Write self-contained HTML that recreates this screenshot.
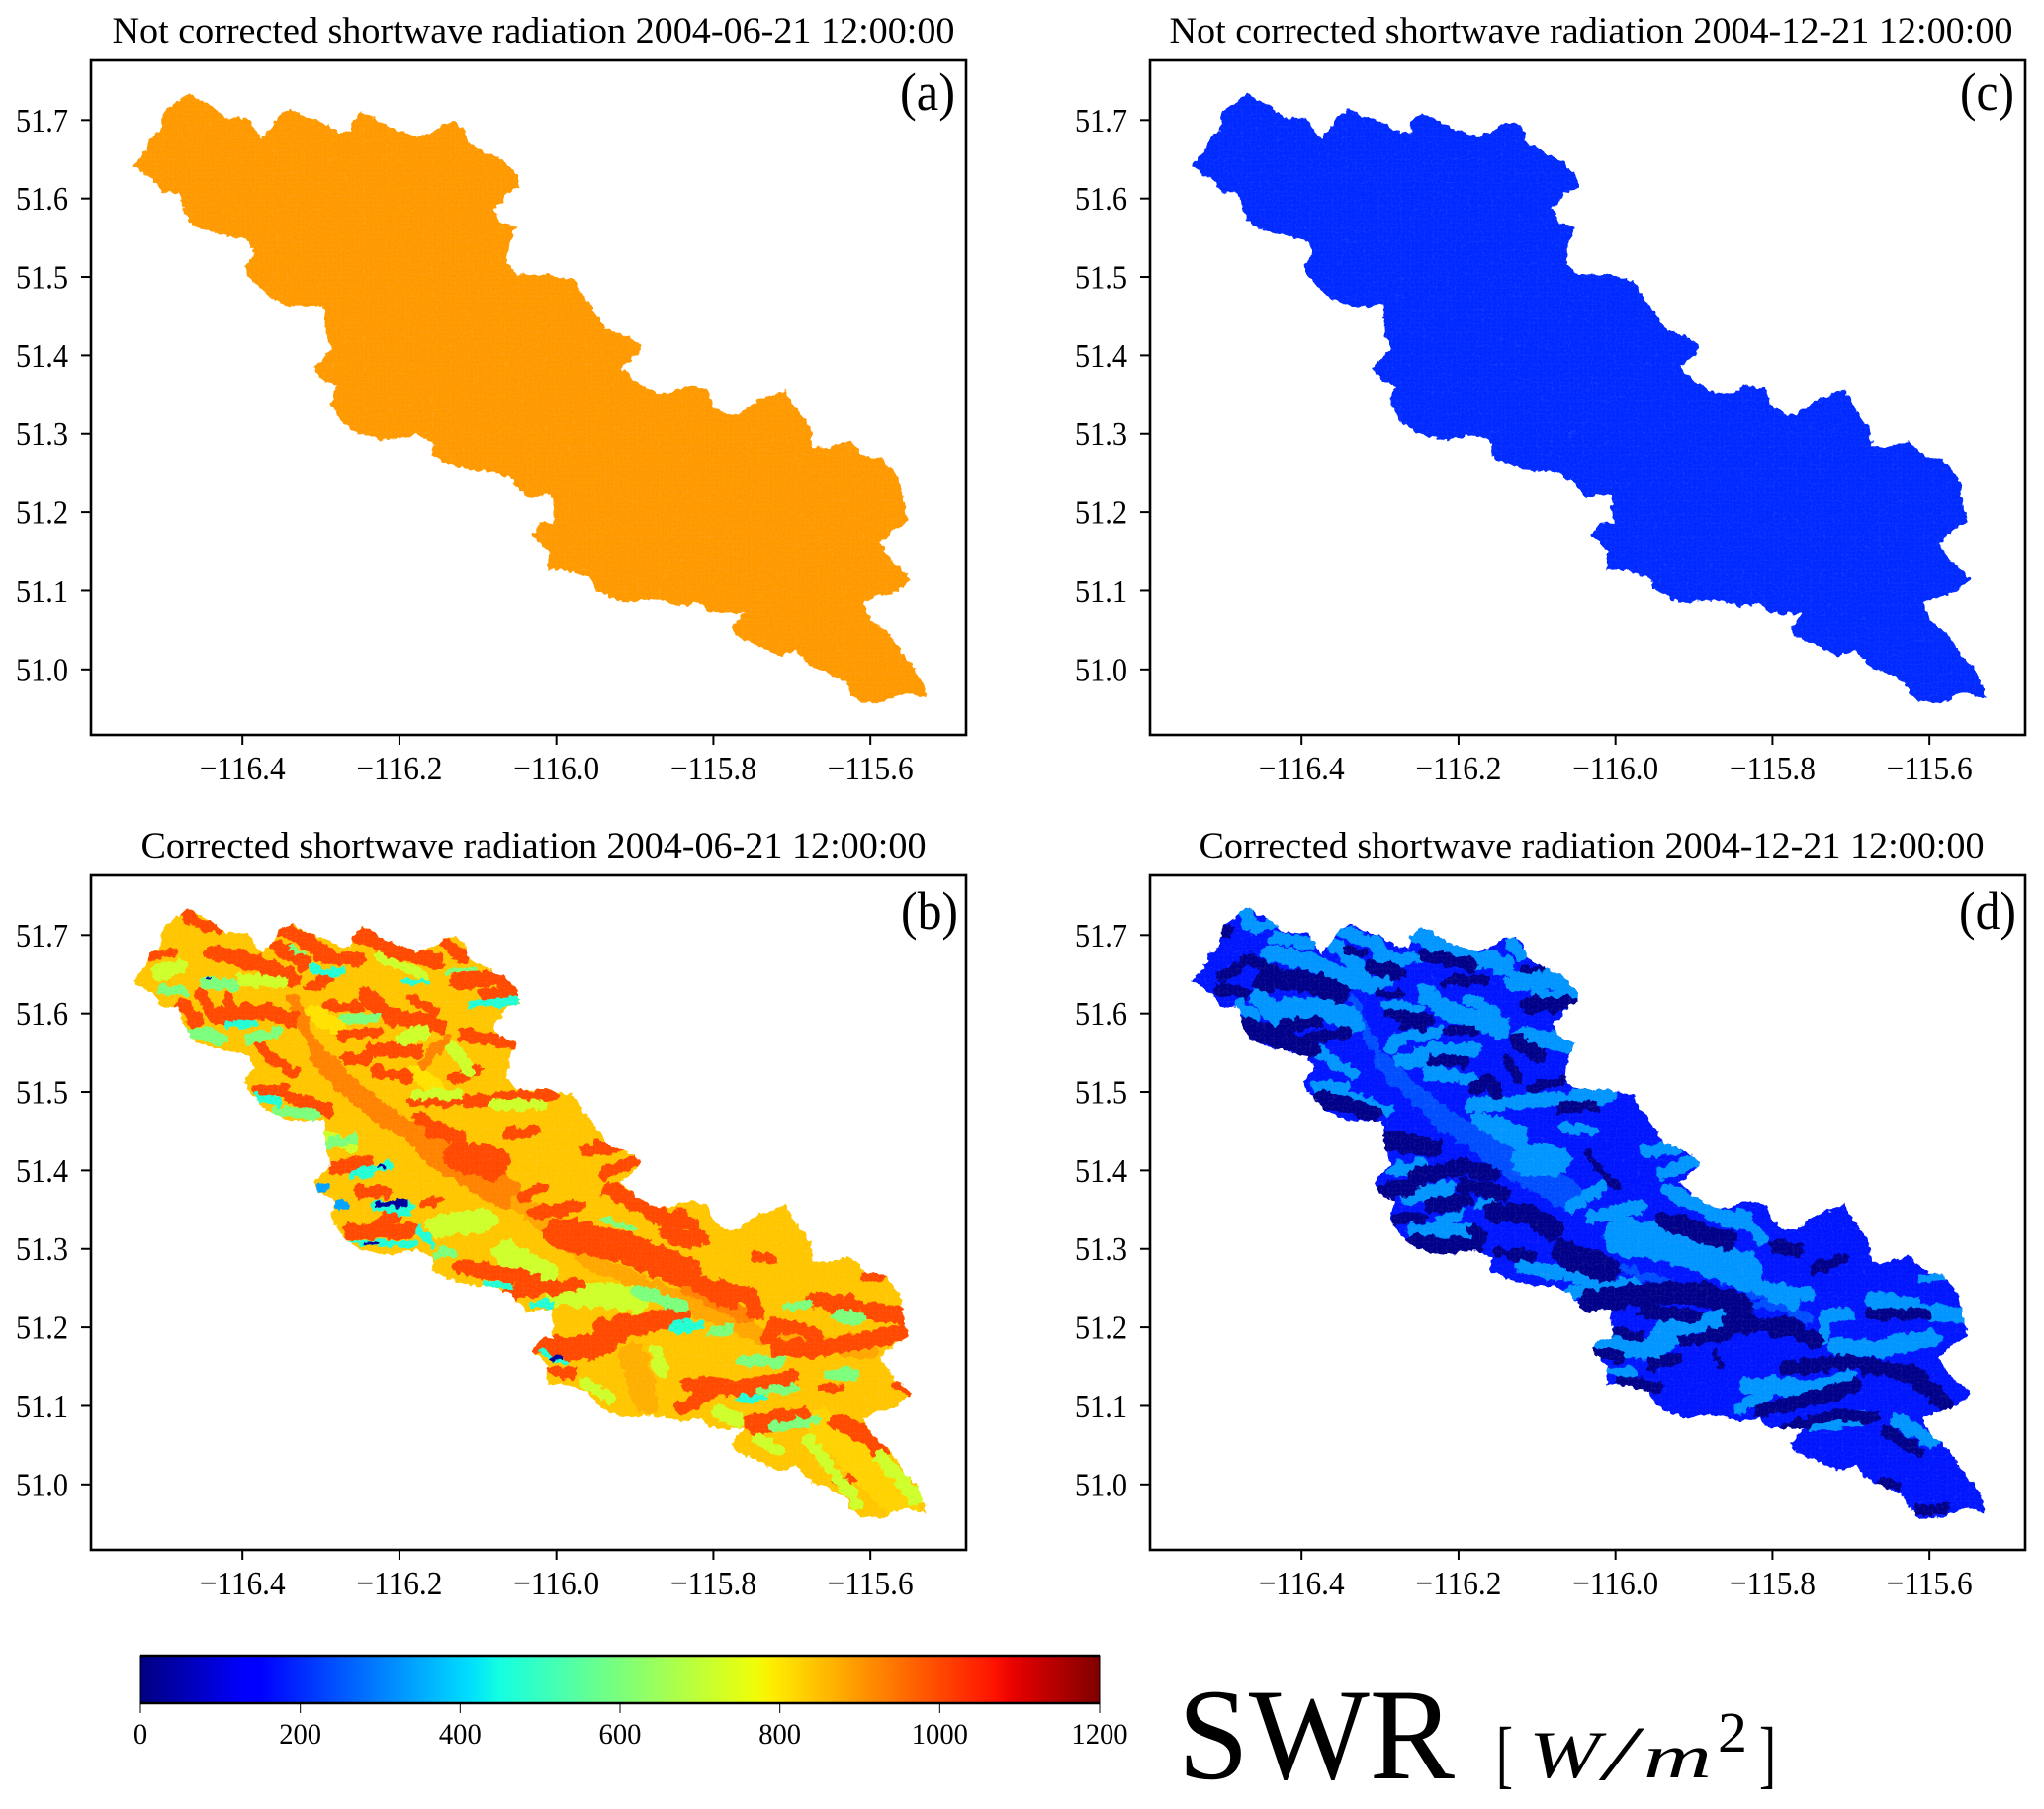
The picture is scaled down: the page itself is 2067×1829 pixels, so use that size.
<!DOCTYPE html>
<html lang="en">
<head>
<meta charset="utf-8">
<title>Shortwave radiation maps</title>
<style>
html,body{margin:0;padding:0;background:#fff;}
svg{display:block;}
text{font-family:"Liberation Serif",serif;fill:#000;}
</style>
</head>
<body>
<svg id="figure" xmlns="http://www.w3.org/2000/svg" width="2067" height="1829" viewBox="0 0 2067 1829">
  <defs>
    <pattern id="cell-grid" width="4.6" height="4.6" patternUnits="userSpaceOnUse">
      <path d="M0 0H4.6M0 0V4.6" stroke="#fff" stroke-width="0.7" opacity="0.10" fill="none"></path>
    </pattern>
    <filter id="rough" x="-5%" y="-5%" width="110%" height="110%">
      <feTurbulence type="fractalNoise" baseFrequency="0.09" numOctaves="2" seed="4" result="n"></feTurbulence>
      <feDisplacementMap in="SourceGraphic" in2="n" scale="10" xChannelSelector="R" yChannelSelector="G"></feDisplacementMap>
    </filter>
    <filter id="edge" x="-3%" y="-3%" width="106%" height="106%">
      <feTurbulence type="fractalNoise" baseFrequency="0.16" numOctaves="2" seed="9" result="n"></feTurbulence>
      <feDisplacementMap in="SourceGraphic" in2="n" scale="7" xChannelSelector="R" yChannelSelector="G"></feDisplacementMap>
    </filter>
    <linearGradient id="jet-gradient" x1="0" x2="1" y1="0" y2="0"></linearGradient>
  </defs>
  <rect x="0" y="0" width="2067" height="1829" fill="#fff"></rect>

  <text x="539.5" y="43" text-anchor="middle" font-size="37" textLength="852" lengthAdjust="spacingAndGlyphs">Not corrected shortwave radiation 2004-06-21 12:00:00</text>
  <text x="1609" y="43" text-anchor="middle" font-size="37" textLength="853" lengthAdjust="spacingAndGlyphs">Not corrected shortwave radiation 2004-12-21 12:00:00</text>
  <text x="539.5" y="867" text-anchor="middle" font-size="37" textLength="794" lengthAdjust="spacingAndGlyphs">Corrected shortwave radiation 2004-06-21 12:00:00</text>
  <text x="1609.5" y="867" text-anchor="middle" font-size="37" textLength="794" lengthAdjust="spacingAndGlyphs">Corrected shortwave radiation 2004-12-21 12:00:00</text>

  <g id="panels"></g>

  <text x="966" y="111" text-anchor="end" font-size="54" textLength="56" lengthAdjust="spacingAndGlyphs">(a)</text>
  <text x="2037" y="111" text-anchor="end" font-size="54" textLength="55" lengthAdjust="spacingAndGlyphs">(c)</text>
  <text x="969" y="939" text-anchor="end" font-size="54" textLength="58" lengthAdjust="spacingAndGlyphs">(b)</text>
  <text x="2039" y="939" text-anchor="end" font-size="54" textLength="58" lengthAdjust="spacingAndGlyphs">(d)</text>

  <g id="colorbar"></g>

  <g>
    <text x="1191" y="1798" font-size="132" textLength="280" lengthAdjust="spacingAndGlyphs">SWR</text>
    <text x="1513" y="1799" font-size="76" textLength="17" lengthAdjust="spacingAndGlyphs">[</text>
    <text x="1546" y="1797" font-size="68" font-style="italic" textLength="72" lengthAdjust="spacingAndGlyphs">W</text>
    <text x="1622" y="1799" font-size="78" font-style="italic" textLength="32" lengthAdjust="spacingAndGlyphs">/</text>
    <text x="1662" y="1797" font-size="62" font-style="italic" textLength="69" lengthAdjust="spacingAndGlyphs">m</text>
    <text x="1737" y="1771" font-size="58" textLength="30" lengthAdjust="spacingAndGlyphs">2</text>
    <text x="1779" y="1799" font-size="76" textLength="17" lengthAdjust="spacingAndGlyphs">]</text>
  </g>
</svg>

<script>
/* ---------- chart data ---------- */
const xTickValues = [-116.4, -116.2, -116.0, -115.8, -115.6];
const yTickValues = [51.0, 51.1, 51.2, 51.3, 51.4, 51.5, 51.6, 51.7];
const colorbarTicks = [0, 200, 400, 600, 800, 1000, 1200];

const juneUncorrectedSwr = 898;
const decemberUncorrectedSwr = 198;
const juneCorrectedBaseSwr = 840;
const decemberCorrectedBaseSwr = 172;

const basinLon = [
-116.540,-116.525,-116.516,-116.504,-116.501,-116.486,-116.470,-116.456,-116.439,-116.422,
-116.393,-116.385,-116.375,-116.364,-116.352,-116.338,-116.319,-116.298,-116.277,-116.262,
-116.261,-116.248,-116.232,-116.211,-116.178,-116.157,-116.144,-116.128,-116.117,-116.114,
-116.090,-116.066,-116.049,-116.048,-116.066,-116.070,-116.081,-116.072,-116.051,-116.059,
-116.063,-116.049,-116.012,-115.978,-115.966,-115.949,-115.937,-115.908,-115.893,-115.897,
-115.918,-115.900,-115.875,-115.854,-115.833,-115.808,-115.800,-115.783,-115.767,-115.742,
-115.725,-115.709,-115.692,-115.677,-115.673,-115.655,-115.626,-115.605,-115.584,-115.563,
-115.559,-115.551,-115.568,-115.588,-115.572,-115.547,-115.568,-115.592,-115.609,-115.597,
-115.576,-115.559,-115.543,-115.530,-115.530,-115.551,-115.563,-115.584,-115.613,-115.626,
-115.630,-115.655,-115.675,-115.695,-115.717,-115.742,-115.771,-115.777,-115.761,-115.783,
-115.804,-115.817,-115.841,-115.866,-115.891,-115.908,-115.929,-115.949,-115.958,-115.991,
-116.012,-116.010,-116.031,-116.020,-116.003,-116.006,-116.020,-116.037,-116.057,-116.078,
-116.111,-116.144,-116.159,-116.157,-116.178,-116.203,-116.223,-116.256,-116.273,-116.287,
-116.281,-116.298,-116.310,-116.286,-116.294,-116.296,-116.323,-116.344,-116.369,-116.389,
-116.398,-116.385,-116.392,-116.422,-116.447,-116.464,-116.474,-116.481,-116.501,-116.514
];
const basinLat = [
51.641,51.658,51.678,51.685,51.711,51.721,51.735,51.726,51.718,51.703,
51.703,51.691,51.676,51.688,51.708,51.714,51.704,51.698,51.685,51.683,
51.698,51.710,51.703,51.690,51.679,51.685,51.695,51.698,51.688,51.672,
51.658,51.647,51.629,51.614,51.606,51.594,51.588,51.569,51.564,51.546,
51.517,51.503,51.503,51.496,51.477,51.454,51.434,51.424,51.411,51.401,
51.385,51.368,51.353,51.353,51.362,51.357,51.335,51.324,51.326,51.345,
51.349,51.357,51.329,51.309,51.283,51.283,51.291,51.270,51.268,51.243,
51.220,51.187,51.179,51.161,51.138,51.116,51.098,51.092,51.083,51.062,
51.045,51.019,51.000,50.976,50.963,50.970,50.968,50.958,50.958,50.970,
50.983,50.996,51.003,51.024,51.017,51.029,51.042,51.053,51.072,51.071,
51.072,51.085,51.080,51.087,51.088,51.084,51.090,51.101,51.118,51.128,
51.127,51.151,51.171,51.186,51.186,51.223,51.223,51.218,51.243,51.252,
51.254,51.264,51.273,51.289,51.299,51.294,51.293,51.302,51.316,51.339,
51.362,51.368,51.385,51.408,51.428,51.464,51.463,51.464,51.477,51.497,
51.513,51.530,51.546,51.553,51.559,51.566,51.583,51.608,51.608,51.625
];

/* June corrected map: terrain bands (path in degrees, breadth in degrees, SWR in W/m2). */
const juneBandLon = [
[-115.663,-115.558],[-115.902,-115.886],[-116.310,-116.276],[-116.175,-116.146],
[-116.297,-116.251,-116.196,-116.167,-116.133,-116.083],[-116.335,-116.318,-116.297],[-116.142,-116.171],
[-116.158,-116.066],[-116.05,-115.95,-115.84,-115.74,-115.6],[-115.831,-115.755],[-116.041,-115.986],
[-116.150,-116.091],[-116.066,-116.016],[-115.999,-115.898],

[-116.474,-116.465],[-116.457,-116.432],[-116.516,-116.490],[-116.436,-116.377,-116.335],[-116.348,-116.310,-116.293],
[-116.356,-116.322],[-116.301,-116.251],[-116.255,-116.209,-116.154],[-116.142,-116.121],[-116.125,-116.075,-116.054],
[-116.091,-116.062],[-116.243,-116.213,-116.150],[-116.293,-116.251],[-116.314,-116.289],[-116.184,-116.154],
[-116.453,-116.432],[-116.432,-116.377,-116.339],[-116.419,-116.411],[-116.476,-116.461],[-116.276,-116.226],
[-116.268,-116.243],[-116.234,-116.180],[-116.230,-116.192],[-116.117,-116.054],[-116.133,-116.100],
[-116.377,-116.335],[-116.381,-116.348],[-116.339,-116.289],[-116.184,-116.091,-116.007],[-116.175,-116.159],
[-116.159,-116.125],[-116.062,-116.028],[-116.117,-116.079],[-116.280,-116.243],[-116.251,-116.217],

[-116.263,-116.188],[-116.221,-116.209],[-116.171,-116.150],[-116.121,-116.079],[-116.121,-116.028],
[-116.058,-116.024,-115.974],[-115.961,-115.923],[-115.940,-115.898],[-115.932,-115.873,-115.843],[-115.839,-115.814],
[-116.028,-115.974],[-116.045,-116.016],[-115.995,-115.919,-115.835],[-115.940,-115.843],[-116.016,-115.953,-115.920],
[-116.003,-115.978],[-115.814,-115.776],[-115.818,-115.776],

[-115.831,-115.747,-115.701],[-115.839,-115.802],[-115.747,-115.688],[-115.642,-115.596,-115.587],[-115.818,-115.755,-115.747],
[-115.747,-115.726],[-115.860,-115.823],[-115.671,-115.621],[-115.600,-115.558],[-115.608,-115.583],
[-115.730,-115.722,-115.692,-115.671],[-115.718,-115.663,-115.554],[-115.663,-115.638],[-115.642,-115.625],[-115.566,-115.550],

[-116.402,-116.352],[-116.507,-116.478],[-116.230,-116.167],[-116.196,-116.171],[-116.133,-116.112],
[-116.079,-116.020],[-116.179,-116.124],[-116.293,-116.263],[-115.680,-115.642,-115.617],[-115.587,-115.541],
[-115.747,-115.718],[-115.797,-115.768],[-115.873,-115.865],[-115.965,-115.932],

[-116.448,-116.411],[-116.503,-116.474],[-116.465,-116.427],[-116.394,-116.356],[-116.356,-116.310],
[-116.339,-116.322],[-116.268,-116.234],[-116.138,-116.100],[-116.289,-116.259],[-115.894,-115.843],
[-115.940,-115.902],[-116.150,-116.133],[-115.762,-115.718],[-115.739,-115.697],[-115.650,-115.621],
[-115.642,-115.613],[-115.705,-115.680],[-115.797,-115.781],[-115.722,-115.671],

[-116.419,-116.385],[-116.377,-116.356],[-116.310,-116.276],[-116.192,-116.167],[-116.108,-116.054],
[-116.259,-116.213],[-115.848,-115.818],[-116.247,-116.226],[-116.175,-116.158],[-116.263,-116.179],
[-116.028,-116.007],[-116.091,-116.058],[-115.764,-115.741],[-116.020,-115.990],[-116.230,-116.188],

[-116.301,-116.293],[-116.276,-116.270],

[-116.226,-116.192],[-116.242,-116.230],[-116.007,-115.996],[-116.445,-116.442],[-116.227,-116.222]
];
const juneBandLat = [
[51.077,50.972],[51.161,51.106],[51.602,51.581],[51.526,51.497],
[51.539,51.493,51.455,51.438,51.409,51.375],[51.619,51.577,51.539],[51.568,51.535],
[51.429,51.371],[51.36,51.28,51.235,51.19,51.17],[51.249,51.211],[51.249,51.253],
[51.329,51.337],[51.295,51.270],[51.245,51.236],

[51.730,51.719],[51.715,51.709],[51.673,51.677],[51.677,51.663,51.644],[51.707,51.690,51.677],
[51.686,51.665],[51.671,51.669],[51.703,51.682,51.667],[51.690,51.673],[51.640,51.646,51.631],
[51.625,51.623],[51.623,51.598,51.585],[51.610,51.608],[51.633,51.646],[51.619,51.602],
[51.623,51.593],[51.597,51.604,51.593],[51.619,51.602],[51.610,51.593],[51.572,51.577],
[51.543,51.543],[51.553,51.553],[51.526,51.518],[51.572,51.562],[51.516,51.528],
[51.556,51.522],[51.503,51.503],[51.493,51.476],[51.488,51.490,51.497],[51.467,51.459],
[51.451,51.442],[51.446,51.451],[51.417,51.417],[51.402,51.409],[51.373,51.373],

[51.322,51.322],[51.333,51.345],[51.358,51.362],[51.417,51.409],[51.278,51.261],
[51.245,51.249,51.255],[51.425,51.430],[51.396,51.413],[51.375,51.345,51.333],[51.345,51.312],
[51.345,51.354],[51.367,51.379],[51.320,51.304,51.270],[51.198,51.215],[51.177,51.173,51.195],
[51.144,51.142],[51.127,51.119],[51.253,51.232],

[51.127,51.123,51.136],[51.098,51.119],[51.077,51.085],[51.081,51.056,51.047],[51.257,51.241,51.220],
[51.291,51.289],[51.320,51.308],[51.236,51.228],[51.220,51.215],[51.266,51.264],
[51.186,51.203,51.199,51.190],[51.175,51.173,51.194],[51.123,51.123],[51.005,51.005],[51.127,51.117],

[51.644,51.640],[51.652,51.661],[51.673,51.648],[51.568,51.577],[51.560,51.526],
[51.484,51.484],[51.497,51.497],[51.442,51.430],[51.056,51.010,50.976],[51.035,50.980],
[51.060,51.043],[51.094,51.081],[51.169,51.144],[51.131,51.110],

[51.640,51.635],[51.631,51.629],[51.577,51.568],[51.568,51.575],[51.476,51.472],
[51.682,51.677],[51.593,51.596],[51.652,51.656],[51.434,51.438],[51.245,51.228],
[51.339,51.325],[51.295,51.295],[51.157,51.157],[51.119,51.123],[51.140,51.140],
[51.215,51.211],[51.226,51.230],[51.194,51.197],[51.073,51.081],

[51.585,51.587],[51.492,51.488],[51.656,51.652],[51.640,51.640],[51.610,51.617],
[51.396,51.407],[51.201,51.203],[51.392,51.404],[51.324,51.307],[51.308,51.306],
[51.230,51.230],[51.257,51.253],[51.110,51.110],[51.167,51.157],[51.356,51.352],

[51.379,51.379],[51.356,51.356],

[51.358,51.358],[51.307,51.306],[51.163,51.161],[51.644,51.644],[51.406,51.406]
];
const juneBandBreadth = [
.03,.025,.016,.016,
.02,.011,.010,
.030,.016,.013,.011,
.022,.024,.024,

.012,.012,.008,.016,.014,
.014,.012,.016,.012,.016,
.012,.016,.01,.012,.01,
.012,.016,.01,.014,.01,
.012,.014,.012,.012,.01,
.012,.012,.012,.012,.012,
.014,.012,.022,.014,.012,

.014,.016,.008,.03,.014,
.014,.012,.012,.016,.012,
.012,.01,.03,.02,.022,
.01,.012,.014,

.016,.014,.02,.016,.016,
.01,.016,.016,.018,.008,
.014,.016,.008,.01,.008,

.012,.014,.008,.014,.012,
.01,.01,.012,.012,.014,
.012,.012,.012,.01,

.012,.008,.012,.01,.01,
.006,.01,.005,.01,.014,
.006,.008,.012,.008,.012,
.012,.008,.012,.01,

.008,.01,.008,.006,.008,
.008,.012,.006,.008,.006,
.008,.006,.008,.006,.012,

.006,.009,

.006,.004,.006,.003,.004
];
const juneBandSwr = [
825,870,805,805,
925,925,925,
925,880,925,960,
720,720,720,

1000,1000,1000,1000,1000,
1000,1000,1000,1000,1000,
1000,1000,1000,1000,1000,
1000,1000,1000,1000,1000,
1000,1000,1000,1000,1000,
1000,1000,1000,1000,1000,
1000,1000,1000,1000,1000,

1000,1000,1000,1000,1000,
1000,1000,1000,1000,1000,
1000,1000,1000,1000,1000,
1000,1000,1000,

1000,1000,1000,1000,1000,
1000,1000,1000,1000,1000,
1000,1000,1000,1000,1000,

720,720,720,720,720,
720,720,720,720,720,
720,720,720,720,

600,600,600,600,600,
600,600,600,600,600,
600,600,600,600,600,
600,600,600,600,

470,470,470,470,470,
470,470,470,470,470,
470,470,470,470,470,

340,340,

30,30,30,30,30
];

/* December corrected map: terrain bands (path in degrees, breadth in degrees, SWR in W/m2). */
const decBandLon = [
[-116.297,-116.251,-116.196,-116.167],[-116.158,-116.066],[-116.221,-116.179],[-116.335,-116.318,-116.297],[-115.831,-115.755],[-115.990,-115.900,-115.800],

[-116.474,-116.465],[-116.461,-116.432],[-116.432,-116.390],[-116.440,-116.381,-116.331],[-116.352,-116.310,-116.293],
[-116.356,-116.335,-116.322],[-116.301,-116.251],[-116.255,-116.209,-116.142],[-116.133,-116.121],[-116.129,-116.075,-116.054],
[-116.100,-116.062],[-116.243,-116.213,-116.146],[-116.293,-116.251],[-116.314,-116.289],[-116.188,-116.154],
[-116.453,-116.432],[-116.419,-116.369,-116.335],[-116.476,-116.461],[-116.285,-116.276,-116.226],[-116.272,-116.243],
[-116.234,-116.180],[-116.238,-116.188],[-116.121,-116.054],[-116.377,-116.335],[-116.381,-116.348],
[-116.339,-116.289],[-116.184,-116.091,-116.007],[-116.175,-116.159],[-116.154,-116.125],[-116.066,-116.028],
[-116.112,-116.079],

[-116.282,-116.247],[-116.263,-116.217],[-116.255,-116.188],[-116.221,-116.200],[-116.175,-116.154],
[-116.058,-116.016],[-116.028,-115.969],[-115.990,-115.919,-115.835],[-116.121,-116.028],[-116.058,-116.024,-115.974],
[-115.961,-115.923],[-115.940,-115.898],[-115.932,-115.873,-115.843],[-115.839,-115.814],[-115.940,-115.843],
[-116.016,-115.953,-115.920],[-116.003,-115.978],[-115.814,-115.776],[-115.818,-115.776],

[-115.831,-115.747,-115.701],[-115.839,-115.802],[-115.747,-115.688],[-115.642,-115.596],[-115.814,-115.755],
[-115.671,-115.621],[-115.604,-115.558],[-115.608,-115.583],[-115.734,-115.734,-115.705],[-115.718,-115.663,-115.596],

[-116.507,-116.490],[-116.499,-116.465,-116.440],[-116.503,-116.474],[-116.448,-116.398,-116.352],[-116.469,-116.427,-116.390],
[-116.423,-116.381],[-116.390,-116.343],[-116.310,-116.276],[-116.301,-116.272],[-116.289,-116.234],
[-116.272,-116.243],[-116.213,-116.175],[-116.243,-116.184],[-116.217,-116.167],[-116.117,-116.091],
[-116.112,-116.049],[-116.125,-116.100],[-116.138,-116.125],[-116.180,-116.163,-116.150],[-116.108,-116.070],
[-116.070,-116.028],[-116.234,-116.192],[-116.377,-116.310],[-116.339,-116.322],

[-116.289,-116.234],[-116.255,-116.196,-116.158],[-116.293,-116.263],[-116.196,-116.142],[-116.234,-116.192],
[-116.154,-116.112,-116.079],[-116.066,-116.011],[-116.255,-116.179],[-116.280,-116.247],[-116.179,-116.171],
[-116.150,-116.108],[-116.032,-115.974,-115.898,-115.839],[-115.965,-115.898],[-115.881,-115.776],[-116.028,-115.995],
[-115.953,-115.923],[-115.990,-115.948],[-115.940,-115.856],[-116.037,-115.999],

[-115.856,-115.772,-115.747],[-115.915,-115.856],[-115.999,-115.970],[-115.781,-115.697],[-115.814,-115.747,-115.692],
[-115.680,-115.621,-115.579],[-115.781,-115.718,-115.671],[-115.676,-115.608],[-115.747,-115.713],[-115.797,-115.768],
[-115.923,-115.860],[-115.986,-115.949],[-115.655,-115.613],[-115.613,-115.579],[-115.663,-115.638],
[-115.873,-115.865]
];
const decBandLat = [
[51.539,51.493,51.455,51.438],[51.429,51.371],[51.463,51.442],[51.619,51.577,51.539],[51.249,51.211],[51.275,51.245,51.225],

[51.730,51.715],[51.709,51.715],[51.696,51.690],[51.677,51.665,51.640],[51.707,51.690,51.677],
[51.686,51.665,51.648],[51.671,51.669],[51.703,51.682,51.661],[51.690,51.673],[51.640,51.646,51.629],
[51.623,51.621],[51.627,51.602,51.581],[51.610,51.608],[51.633,51.646],[51.619,51.602],
[51.623,51.593],[51.606,51.606,51.589],[51.610,51.597],[51.556,51.568,51.577],[51.539,51.545],
[51.553,51.553],[51.526,51.516],[51.572,51.562],[51.551,51.522],[51.505,51.503],
[51.493,51.476],[51.484,51.490,51.497],[51.467,51.459],[51.455,51.442],[51.455,51.451],
[51.413,51.413],

[51.400,51.406],[51.367,51.375],[51.322,51.322],[51.337,51.345],[51.358,51.360],
[51.354,51.379],[51.341,51.354],[51.316,51.304,51.270],[51.278,51.261],[51.245,51.249,51.255],
[51.425,51.430],[51.396,51.413],[51.375,51.345,51.333],[51.345,51.312],[51.198,51.215],
[51.177,51.173,51.195],[51.144,51.142],[51.127,51.119],[51.253,51.232],

[51.127,51.123,51.136],[51.098,51.119],[51.077,51.085],[51.081,51.056],[51.253,51.241],
[51.236,51.228],[51.220,51.215],[51.262,51.264],[51.186,51.215,51.217],[51.175,51.173,51.186],

[51.703,51.707],[51.648,51.669,51.656],[51.631,51.627],[51.640,51.644,51.627],[51.581,51.568,51.556],
[51.585,51.589],[51.568,51.575],[51.658,51.652],[51.627,51.623],[51.600,51.593],
[51.587,51.583],[51.579,51.577],[51.675,51.661],[51.640,51.644],[51.656,51.659],
[51.610,51.614],[51.564,51.547],[51.543,51.518],[51.505,51.518,51.497],[51.505,51.514],
[51.480,51.482],[51.541,51.539],[51.493,51.472],[51.682,51.677],

[51.438,51.430],[51.392,51.404,51.396],[51.375,51.377],[51.381,51.371],[51.356,51.362],
[51.348,51.345,51.324],[51.295,51.274],[51.308,51.301],[51.337,51.341],[51.324,51.312],
[51.295,51.291],[51.232,51.241,51.245,51.228],[51.220,51.215],[51.190,51.207],[51.169,51.163],
[51.152,51.161],[51.131,51.123],[51.337,51.312],[51.421,51.379],

[51.207,51.199,51.182],[51.182,51.190],[51.194,51.188],[51.148,51.157],[51.094,51.110,51.127],
[51.152,51.140,51.102],[51.073,51.089,51.085],[51.217,51.217],[51.274,51.287],[51.304,51.299],
[51.329,51.308],[51.131,51.123],[51.068,51.043],[50.968,50.968],[51.005,50.997],
[51.169,51.152]
];
const decBandBreadth = [
.016,.030,.022,.008,.010,.007,

.014,.01,.012,.016,.012,
.014,.012,.018,.012,.02,
.012,.018,.01,.014,.012,
.018,.022,.014,.012,.016,
.014,.014,.016,.012,.012,
.012,.014,.014,.022,.01,
.03,

.014,.018,.016,.012,.01,
.012,.014,.036,.012,.014,
.012,.012,.014,.012,.018,
.022,.01,.012,.014,

.016,.012,.014,.014,.012,
.016,.016,.008,.012,.016,

.008,.012,.012,.02,.02,
.012,.012,.014,.008,.01,
.008,.008,.012,.01,.006,
.014,.016,.01,.012,.01,
.01,.01,.016,.008,

.02,.016,.016,.014,.014,
.02,.025,.016,.01,.012,
.01,.022,.012,.01,.012,
.012,.012,.016,.006,

.016,.01,.01,.014,.014,
.016,.01,.012,.012,.012,
.016,.012,.012,.01,.008,
.006
];
const decBandSwr = [
240,240,240,240,240,240,

325,325,325,325,325,
325,325,325,325,325,
325,325,325,325,325,
325,325,325,325,325,
325,325,325,325,325,
325,325,325,325,325,
325,

325,325,325,325,325,
325,325,325,325,325,
325,325,325,325,325,
325,325,325,325,

325,325,325,325,325,
325,325,325,325,325,

10,10,10,10,10,
10,10,10,10,10,
10,10,10,10,10,
10,10,10,10,10,
10,10,10,10,

10,10,10,10,10,
10,10,10,10,10,
10,10,10,10,10,
10,10,10,10,

10,10,10,10,10,
10,10,10,10,10,
10,10,10,10,10,
10
];

/* ---------- axis functions ---------- */
const lonMin = -116.593, lonMax = -115.478, latMin = 50.9166, latMax = 51.776;
const colorMax = 1200;
const axisWidth = 885, axisHeight = 682;
const bandWidthGain = 1.35;

function lonToX(panel, lon){ return panel.left + (lon - lonMin) / (lonMax - lonMin) * axisWidth; }
function latToY(panel, lat){ return panel.top + (latMax - lat) / (latMax - latMin) * axisHeight; }
function degToPx(deg){ return deg / (lonMax - lonMin) * axisWidth; }

function lerpTable(t, table){
  for (let i = 1; i < table.length; i++) {
    if (t <= table[i][0]) {
      const a = table[i-1], b = table[i];
      return a[1] + (b[1]-a[1]) * (t-a[0]) / (b[0]-a[0]);
    }
  }
  return table[table.length-1][1];
}
const jetRed = [[0,0],[.35,0],[.66,1],[.89,1],[1,.5]];
const jetGreen = [[0,0],[.125,0],[.375,1],[.64,1],[.91,0],[1,0]];
const jetBlue = [[0,.5],[.11,1],[.34,1],[.65,0],[1,0]];
function swrColor(value){
  const t = Math.max(0, Math.min(1, value / colorMax));
  const c = [jetRed, jetGreen, jetBlue].map(function(tb){ return Math.round(lerpTable(t, tb) * 255); });
  return 'rgb(' + c.join(',') + ')';
}

const NS = 'http://www.w3.org/2000/svg';
function mk(tag, attrs, parent){
  const el = document.createElementNS(NS, tag);
  Object.keys(attrs).forEach(function(k){ el.setAttribute(k, attrs[k]); });
  parent.appendChild(el);
  return el;
}
function basinPoints(panel){
  return basinLon.map(function(lon, i){ return lonToX(panel, lon).toFixed(1) + ',' + latToY(panel, basinLat[i]).toFixed(1); }).join(' ');
}

/* ---------- panels ---------- */
const panelLayout = [
  {key:'a', left:92,   top:61,  base:juneUncorrectedSwr,       lons:null,        lats:null,        widths:null,            values:null},
  {key:'c', left:1163, top:61,  base:decemberUncorrectedSwr,   lons:null,        lats:null,        widths:null,            values:null},
  {key:'b', left:92,   top:885, base:juneCorrectedBaseSwr,     lons:juneBandLon, lats:juneBandLat, widths:juneBandBreadth, values:juneBandSwr},
  {key:'d', left:1163, top:885, base:decemberCorrectedBaseSwr, lons:decBandLon,  lats:decBandLat,  widths:decBandBreadth,  values:decBandSwr}
];
const panelsRoot = document.getElementById('panels');
panelLayout.forEach(function(panel){
  const g = mk('g', {}, panelsRoot);
  
  

  const cid = 'clip-' + panel.key;
  const cp = mk('clipPath', {id: cid}, g);
  mk('polygon', {points: basinPoints(panel)}, cp);

  const rasterWrap = mk('g', {filter: 'url(#edge)'}, g);
  
  

  const base = mk('polygon', {points: basinPoints(panel), fill: swrColor(panel.base)}, rasterWrap);
  
  

  const clipped = mk('g', {'clip-path': 'url(#' + cid + ')'}, rasterWrap);
  
  

  if (panel.lons) {
    const rough = mk('g', {filter: 'url(#rough)'}, clipped);
    panel.lons.forEach(function(path, i){
      const pts = path.map(function(lon, j){
        return lonToX(panel, lon).toFixed(1) + ',' + latToY(panel, panel.lats[i][j]).toFixed(1);
      }).join(' ');
      const band = mk('polyline', {
        points: pts, fill: 'none', stroke: swrColor(panel.values[i]),
        'stroke-width': (degToPx(panel.widths[i]) * bandWidthGain).toFixed(1),
        'stroke-linecap': 'round', 'stroke-linejoin': 'round'
      }, rough);
      
      
    });
  }
  const gridTex = mk('rect', {x: panel.left, y: panel.top, width: axisWidth, height: axisHeight, fill: 'url(#cell-grid)'}, clipped);
  
  

  const frame = mk('rect', {x: panel.left, y: panel.top, width: axisWidth, height: axisHeight, fill: 'none', stroke: '#000', 'stroke-width': 2.6}, g);
  
  

  const bottom = panel.top + axisHeight;
  xTickValues.forEach(function(v){
    const x = lonToX(panel, v);
    const tick = mk('line', {x1: x, x2: x, y1: bottom, y2: bottom + 10, stroke: '#000', 'stroke-width': 2}, g);
    
    
    const label = mk('text', {x: x, y: bottom + 45, 'text-anchor': 'middle', 'font-size': 34, textLength: 87, lengthAdjust: 'spacingAndGlyphs'}, g);
    
    
    label.textContent = v.toFixed(1).replace('-', '\u2212');
  });
  yTickValues.forEach(function(v){
    const y = latToY(panel, v);
    const tick = mk('line', {x1: panel.left - 10, x2: panel.left, y1: y, y2: y, stroke: '#000', 'stroke-width': 2}, g);
    
    
    const label = mk('text', {x: panel.left - 23, y: y + 11.5, 'text-anchor': 'end', 'font-size': 34, textLength: 53, lengthAdjust: 'spacingAndGlyphs'}, g);
    
    
    label.textContent = v.toFixed(1);
  });
});

/* ---------- colorbar ---------- */
const barLeft = 142, barRight = 1112, barTop = 1674, barBottom = 1722;
function swrToBarX(value){ return barLeft + value / colorMax * (barRight - barLeft); }
const grad = document.getElementById('jet-gradient');
for (let s = 0; s <= 64; s++) {
  mk('stop', {offset: (s / 64 * 100) + '%', 'stop-color': swrColor(s / 64 * colorMax)}, grad);
}
const cbRoot = document.getElementById('colorbar');
const barRect = mk('rect', {x: barLeft, y: barTop, width: barRight - barLeft, height: barBottom - barTop, fill: 'url(#jet-gradient)', stroke: '#000', 'stroke-width': 1}, cbRoot);


const barTopEdge = mk('line', {x1: barLeft, x2: barRight, y1: barTop, y2: barTop, stroke: '#000', 'stroke-width': 2.5}, cbRoot);


const barBottomEdge = mk('line', {x1: barLeft, x2: barRight, y1: barBottom, y2: barBottom, stroke: '#000', 'stroke-width': 2.5}, cbRoot);


colorbarTicks.forEach(function(v){
  const x = swrToBarX(v);
  const tick = mk('line', {x1: x, x2: x, y1: barBottom, y2: barBottom + 10, stroke: '#000', 'stroke-width': 1}, cbRoot);
  
  
  const text = String(v);
  const label = mk('text', {x: x, y: 1763, 'text-anchor': 'middle', 'font-size': 30, textLength: text.length * 14.3, lengthAdjust: 'spacingAndGlyphs'}, cbRoot);
  
  
  label.textContent = text;
});
</script>
</body>
</html>
